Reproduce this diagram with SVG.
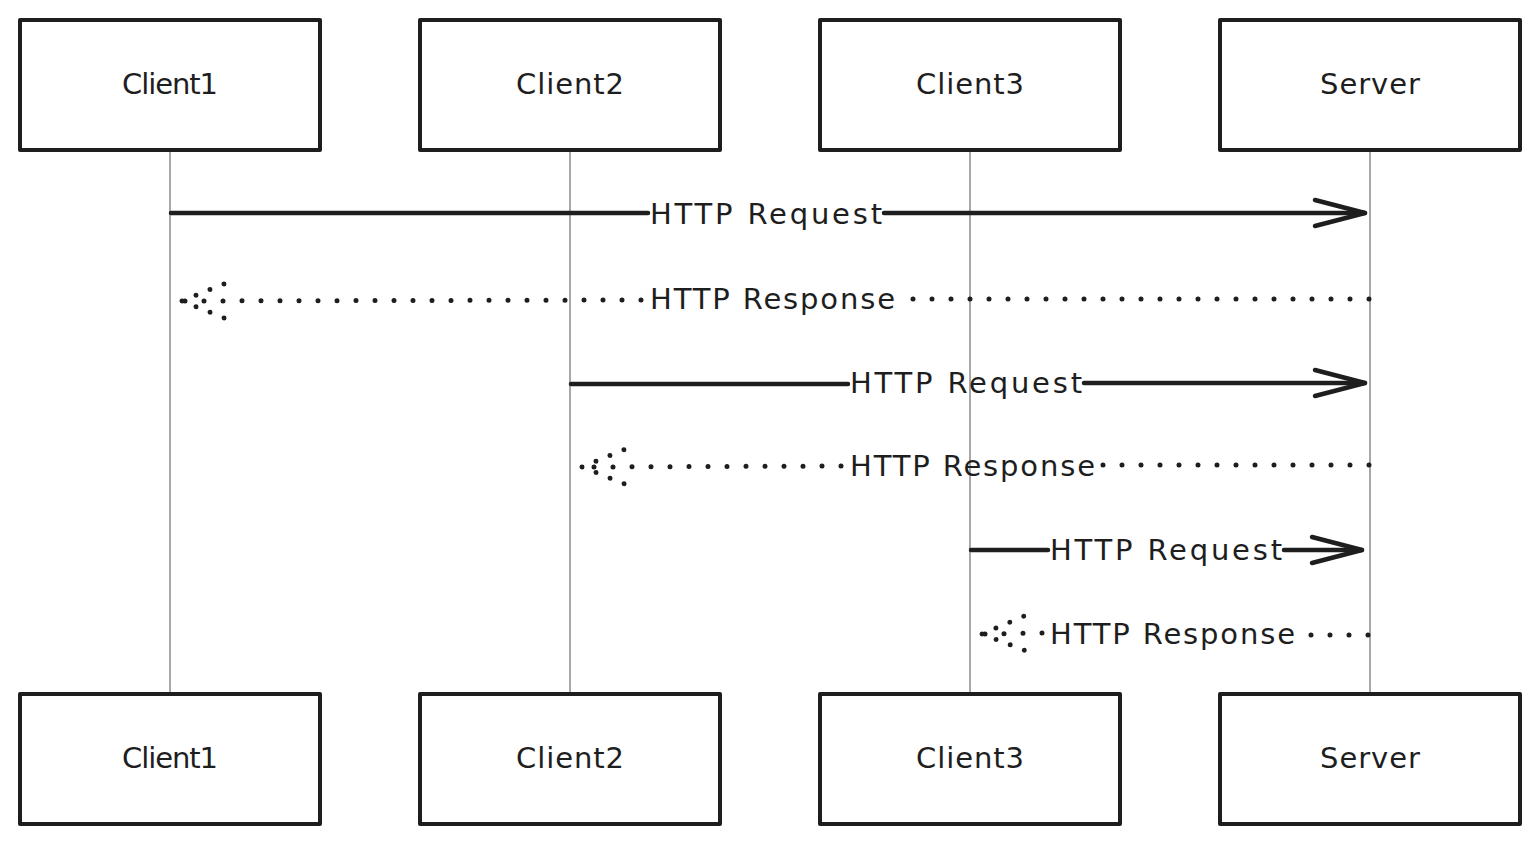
<svg xmlns="http://www.w3.org/2000/svg" width="1540" height="844" viewBox="0 0 1540 844">
<style>
.box{fill:#fff;stroke:#1e1e1e;stroke-width:4;stroke-linejoin:round}
.life{stroke:#a8a8a8;stroke-width:2;fill:none}
.t{font-family:"DejaVu Sans",sans-serif;font-size:29px;fill:#1e1e1e;text-anchor:middle}
.lbl{font-family:"DejaVu Sans",sans-serif;font-size:29px;fill:#1e1e1e}
.solid{stroke:#1e1e1e;stroke-width:4.5;fill:none;stroke-linecap:round}
.dot{stroke:#1e1e1e;stroke-width:5;fill:none;stroke-linecap:round;stroke-dasharray:0 19}
</style>
<defs>
<marker id="open" markerUnits="userSpaceOnUse" markerWidth="60" markerHeight="40" viewBox="-55 -20 60 40" refX="0" refY="0" orient="auto">
<path d="M -50 -13 L 0 0 L -50 13" fill="none" stroke="#1e1e1e" stroke-width="4.5" stroke-linecap="round" stroke-linejoin="round"/>
</marker>
<marker id="dotted" markerUnits="userSpaceOnUse" markerWidth="60" markerHeight="50" viewBox="-55 -25 60 50" refX="0" refY="0" orient="auto">
<path d="M -42 -17 L 0 0 L -42 17" fill="none" stroke="#1e1e1e" stroke-width="5" stroke-linecap="round" stroke-dasharray="0 15.1"/>
</marker>
</defs>
<g id="lifelines">
<line class="life" x1="170" y1="150" x2="170" y2="694"/>
<line class="life" x1="570" y1="150" x2="570" y2="694"/>
<line class="life" x1="970" y1="150" x2="970" y2="694"/>
<line class="life" x1="1370" y1="150" x2="1370" y2="694"/>
</g>
<g id="client1-top"><rect class="box" x="20" y="20" width="300" height="130"/><text class="t" x="170" y="94" textLength="96">Client1</text></g>
<g id="client2-top"><rect class="box" x="420" y="20" width="300" height="130"/><text class="t" x="570" y="94" textLength="108">Client2</text></g>
<g id="client3-top"><rect class="box" x="820" y="20" width="300" height="130"/><text class="t" x="970" y="94" textLength="108">Client3</text></g>
<g id="server-top"><rect class="box" x="1220" y="20" width="300" height="130"/><text class="t" x="1370" y="94" textLength="100">Server</text></g>
<g id="client1-bottom"><rect class="box" x="20" y="694" width="300" height="130"/><text class="t" x="170" y="768" textLength="96">Client1</text></g>
<g id="client2-bottom"><rect class="box" x="420" y="694" width="300" height="130"/><text class="t" x="570" y="768" textLength="108">Client2</text></g>
<g id="client3-bottom"><rect class="box" x="820" y="694" width="300" height="130"/><text class="t" x="970" y="768" textLength="108">Client3</text></g>
<g id="server-bottom"><rect class="box" x="1220" y="694" width="300" height="130"/><text class="t" x="1370" y="768" textLength="100">Server</text></g>
<g id="connectors">
<line class="solid" x1="171" y1="213" x2="648" y2="213"/>
<line class="solid" x1="884" y1="213" x2="1365" y2="213" marker-end="url(#open)"/>
<text class="lbl" x="650" y="224" textLength="232">HTTP Request</text>
<line class="dot" x1="1369" y1="299" x2="898" y2="299"/>
<line class="dot" x1="641" y1="300" x2="182" y2="301" marker-end="url(#dotted)"/>
<text class="lbl" x="650" y="309" textLength="245">HTTP Response</text>
<line class="solid" x1="571" y1="384" x2="848" y2="384"/>
<line class="solid" x1="1084" y1="383" x2="1365" y2="383" marker-end="url(#open)"/>
<text class="lbl" x="850" y="393" textLength="232">HTTP Request</text>
<line class="dot" x1="1369" y1="465" x2="1098" y2="465"/>
<line class="dot" x1="841" y1="466" x2="582" y2="467" marker-end="url(#dotted)"/>
<text class="lbl" x="850" y="476" textLength="245">HTTP Response</text>
<line class="solid" x1="971" y1="550" x2="1048" y2="550"/>
<line class="solid" x1="1284" y1="550" x2="1362" y2="550" marker-end="url(#open)"/>
<text class="lbl" x="1050" y="560" textLength="232">HTTP Request</text>
<line class="dot" x1="1368" y1="635" x2="1302" y2="635"/>
<line class="dot" x1="1042" y1="633" x2="982" y2="634" marker-end="url(#dotted)"/>
<text class="lbl" x="1050" y="644" textLength="245">HTTP Response</text>
</g>
</svg>
